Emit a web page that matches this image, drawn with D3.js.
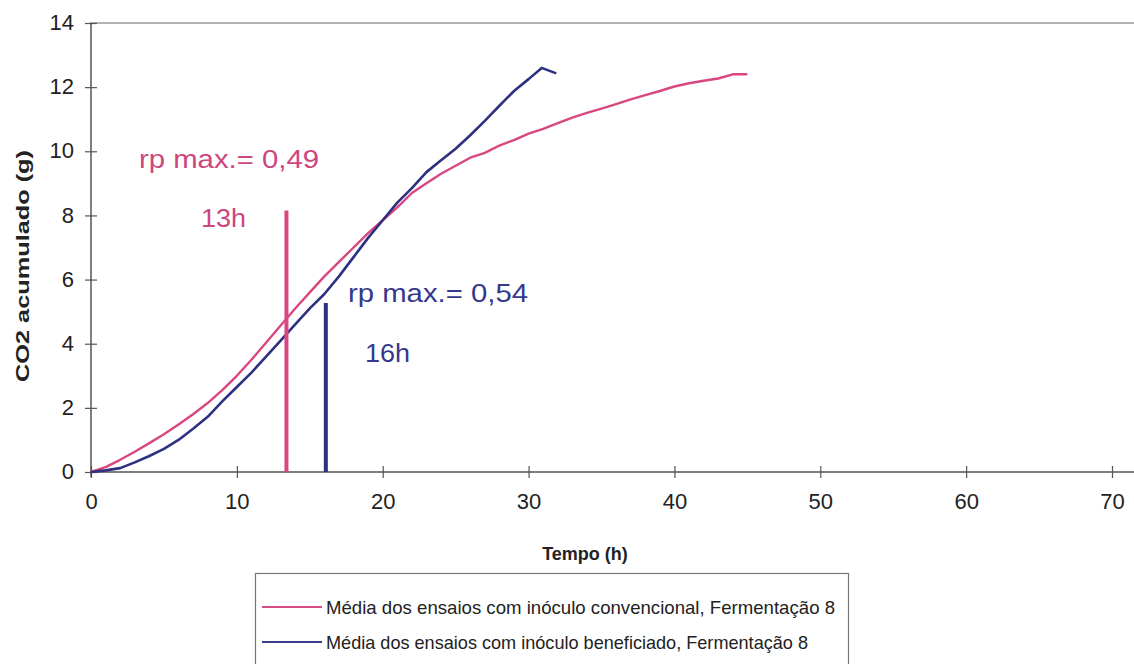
<!DOCTYPE html>
<html>
<head>
<meta charset="utf-8">
<script src="https://cdn.jsdelivr.net/npm/d3@7"></script>
<style>
  html, body { margin: 0; padding: 0; background: #fff; }
  svg { display: block; font-family: Arial, "Liberation Sans", sans-serif; }
</style>
</head>
<body>
<svg id="chart" width="1134" height="664"></svg>
<script>
// ---- data ----
const convTime = [0,1,2,3,4,5,6,7,8,9,10,11,12,13,14,15,16,17,18,19,20,21,22,23,24,25,26,27,28,29,30,31,32,33,34,35,36,37,38,39,40,41,42,43,44,45];
const convCO2  = [0,0.15,0.38,0.63,0.9,1.18,1.48,1.8,2.15,2.55,3.0,3.5,4.03,4.57,5.1,5.6,6.1,6.55,7.0,7.45,7.85,8.25,8.7,9.0,9.3,9.55,9.8,9.95,10.18,10.35,10.55,10.7,10.88,11.05,11.2,11.33,11.47,11.62,11.75,11.88,12.02,12.12,12.2,12.27,12.4,12.4];
const benTime  = [0,1,2,3,4,5,6,7,8,9,10,11,12,13,14,15,16,17,18,19,20,21,22,23,24,25,26,27,28,29,30,30.9,31.9];
const benCO2   = [0,0.05,0.12,0.3,0.5,0.72,1.0,1.35,1.72,2.2,2.65,3.1,3.6,4.1,4.6,5.1,5.55,6.1,6.7,7.3,7.85,8.4,8.85,9.35,9.72,10.08,10.5,10.95,11.42,11.88,12.25,12.6,12.43];
const seriesNames = ["Média dos ensaios com inóculo convencional, Fermentação 8",
                     "Média dos ensaios com inóculo beneficiado, Fermentação 8"];
const markerTime  = [13.4, 16.1];
const markerTop   = [8.15, 5.27];
const markerRate  = ["rp max.= 0,49", "rp max.= 0,54"];
const markerHour  = ["13h", "16h"];
const xTicks = [0,10,20,30,40,50,60,70];
const yTicks = [0,2,4,6,8,10,12,14];
const xTitle = "Tempo (h)";
const yTitle = "CO2 acumulado (g)";

// ---- styles ----
const pink = "#d8477f", blue = "#2e3080";
const pinkText = "#cc4680", blueText = "#35388c";
const FONT = "Arial, 'Liberation Sans', sans-serif";

const svg = d3.select("#chart");
const x = d3.scaleLinear().domain([0, 70]).range([91, 1112]);
const y = d3.scaleLinear().domain([0, 14]).range([472, 23]);

// top frame line
svg.append("line").attr("x1", 90).attr("x2", 1134).attr("y1", y(14)).attr("y2", y(14))
  .attr("stroke", "#9a9a9a").attr("stroke-width", 1.5);

// y axis
const yAxis = svg.append("g").attr("transform", `translate(${x(0)},0)`)
  .call(d3.axisLeft(y).tickValues(yTicks).tickSize(6).tickFormat(d3.format("d")));
yAxis.select(".domain").remove();
yAxis.selectAll(".tick line").attr("x1", -6).attr("x2", 6).attr("stroke", "#555").attr("stroke-width", 1.2);
yAxis.selectAll(".tick text").attr("x", -17).attr("dy", "0.3em")
  .attr("font-size", 22).attr("fill", "#222").attr("font-family", FONT);
svg.append("line").attr("x1", x(0)).attr("x2", x(0)).attr("y1", y(14)).attr("y2", y(0) + 5)
  .attr("stroke", "#555").attr("stroke-width", 1.5);

// x axis
const xAxis = svg.append("g").attr("transform", `translate(0,${y(0)})`)
  .call(d3.axisBottom(x).tickValues(xTicks).tickSize(6).tickFormat(d3.format("d")));
xAxis.select(".domain").remove();
xAxis.selectAll(".tick line").attr("y1", -6).attr("y2", 6).attr("stroke", "#555").attr("stroke-width", 1.2);
xAxis.selectAll(".tick text").attr("y", 21).attr("dy", "0.71em")
  .attr("font-size", 22).attr("fill", "#222").attr("font-family", FONT);
svg.append("line").attr("x1", x(0) - 1).attr("x2", 1134).attr("y1", y(0)).attr("y2", y(0))
  .attr("stroke", "#555").attr("stroke-width", 1.5);

// axis titles
svg.append("text").attr("x", 585).attr("y", 560).attr("text-anchor", "middle")
  .attr("font-size", 18).attr("font-weight", "bold").attr("fill", "#222").text(xTitle);
svg.append("text").attr("transform", `translate(29,${266}) rotate(-90)`).attr("text-anchor", "middle")
  .attr("font-size", 19).attr("font-weight", "bold").attr("fill", "#222")
  .attr("textLength", 232).attr("lengthAdjust", "spacingAndGlyphs").text(yTitle);

// curves
const line = d3.line().x(d => x(d[0])).y(d => y(d[1]));
const conv = convTime.map((t, i) => [t, convCO2[i]]);
const ben = benTime.map((t, i) => [t, benCO2[i]]);
svg.append("path").datum(conv).attr("d", line).attr("fill", "none")
  .attr("stroke", pink).attr("stroke-width", 2.4).attr("stroke-linejoin", "round");
svg.append("path").datum(ben).attr("d", line).attr("fill", "none")
  .attr("stroke", blue).attr("stroke-width", 2.6).attr("stroke-linejoin", "round");

// marker bars
const mColors = [pink, blue];
markerTime.forEach((t, i) => {
  svg.append("line").attr("x1", x(t)).attr("x2", x(t)).attr("y1", y(0)).attr("y2", y(markerTop[i]))
    .attr("stroke", mColors[i]).attr("stroke-width", 4);
});

// annotations
const tColors = [pinkText, blueText];
const rateAnchor = [[139, 168], [348, 302]];
const hourAnchor = [[201, 227], [365, 362]];
markerRate.forEach((s, i) => {
  svg.append("text").attr("x", rateAnchor[i][0]).attr("y", rateAnchor[i][1])
    .attr("font-size", 25).attr("fill", tColors[i])
    .attr("textLength", 180).attr("lengthAdjust", "spacingAndGlyphs").text(s);
  svg.append("text").attr("x", hourAnchor[i][0]).attr("y", hourAnchor[i][1])
    .attr("font-size", 25).attr("fill", tColors[i])
    .attr("textLength", 45).attr("lengthAdjust", "spacingAndGlyphs").text(markerHour[i]);
});

// legend
const lg = svg.append("g");
lg.append("rect").attr("x", 255.5).attr("y", 573.5).attr("width", 593).attr("height", 100)
  .attr("fill", "#fff").attr("stroke", "#777").attr("stroke-width", 1.2);
const legendColors = ["#d64d85", "#3a3d8c"];
const legendLen = [509, 482];
seriesNames.forEach((s, i) => {
  const ly = 607 + i * 35;
  lg.append("line").attr("x1", 262).attr("x2", 322).attr("y1", ly).attr("y2", ly)
    .attr("stroke", legendColors[i]).attr("stroke-width", 2);
  lg.append("text").attr("x", 326).attr("y", ly).attr("dy", "0.35em")
    .attr("font-size", 19).attr("fill", "#222")
    .attr("textLength", legendLen[i]).attr("lengthAdjust", "spacingAndGlyphs").text(s);
});
</script>
</body>
</html>
